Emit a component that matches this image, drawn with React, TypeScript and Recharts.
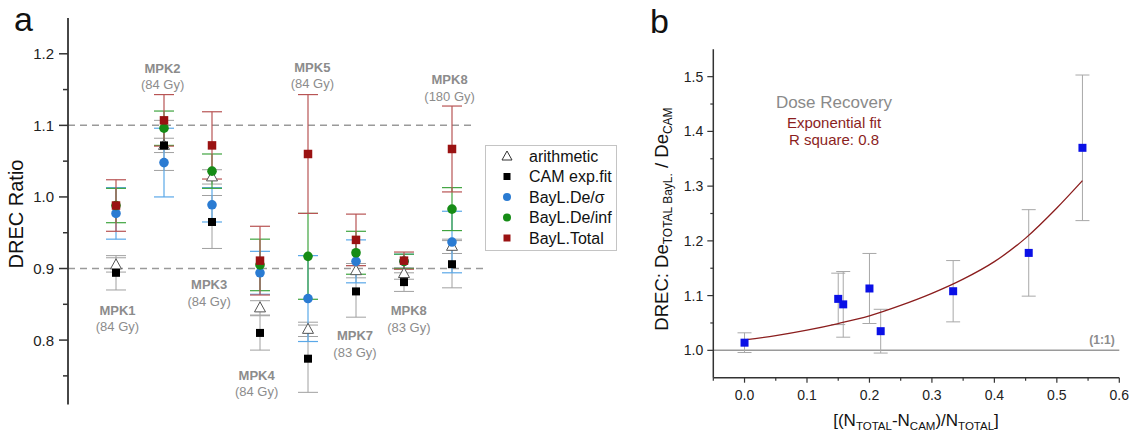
import { ScatterChart, Scatter, XAxis, YAxis, ErrorBar, ReferenceLine } from 'recharts'

// ---- panel a ----
const groups = ['MPK1', 'MPK2', 'MPK3', 'MPK4', 'MPK5', 'MPK7', 'MPK8', 'MPK8']
const doses = ['(84 Gy)', '(84 Gy)', '(84 Gy)', '(84 Gy)', '(84 Gy)', '(83 Gy)', '(83 Gy)', '(180 Gy)']
// where each group caption sits (group index, ratio)
const captionX = [0.03, 0.97, 1.94, 2.93, 4.09, 4.98, 6.1, 6.95]
const captionY = [0.842, 1.18, 0.877, 0.751, 1.181, 0.806, 0.841, 1.164]

const seriesNames = ['arithmetic', 'CAM exp.fit', 'BayL.De/σ', 'BayL.De/inf', 'BayL.Total']

const arithmetic = [0.905, 1.072, 1.028, 0.845, 0.815, 0.897, 0.893, 0.931]
const arithmeticErr = [0.01, 0.01, 0.01, 0.01, 0.01, 0.01, 0.008, 0.01]
const cam = [0.894, 1.072, 0.965, 0.81, 0.774, 0.868, 0.881, 0.906]
const camErr = [0.024, 0.035, 0.037, 0.024, 0.047, 0.036, 0.013, 0.033]
const baylSigma = [0.977, 1.048, 0.989, 0.894, 0.858, 0.91, 0.91, 0.937]
const baylSigmaErr = [0.036, 0.048, 0.024, 0.03, 0.06, 0.03, 0.01, 0.043]
const baylInf = [0.988, 1.096, 1.036, 0.905, 0.917, 0.922, 0.91, 0.983]
const baylInfErr = [0.024, 0.024, 0.024, 0.036, 0.06, 0.03, 0.01, 0.03]
const baylTotal = [0.988, 1.107, 1.072, 0.911, 1.06, 0.94, 0.911, 1.067]
const baylTotalErr = [0.036, 0.036, 0.047, 0.048, 0.083, 0.036, 0.012, 0.06]

const leftTicks = [0.75, 0.8, 0.85, 0.9, 0.95, 1.0, 1.05, 1.1, 1.15, 1.2]

// ---- panel b ----
const ratioX = [0.0, 0.15, 0.158, 0.2, 0.218, 0.334, 0.455, 0.541]
const ratioY = [1.014, 1.094, 1.084, 1.113, 1.035, 1.108, 1.178, 1.37]
const ratioErr = [0.018, 0.047, 0.06, 0.064, 0.04, 0.056, 0.079, 0.133]
const fitX = [0, 0.05, 0.1, 0.15, 0.2, 0.25, 0.3, 0.35, 0.4, 0.45, 0.5, 0.541]
const fitY = [1.019, 1.027, 1.037, 1.049, 1.063, 1.082, 1.104, 1.13, 1.162, 1.205, 1.26, 1.31]

const rightYTicks = [1.0, 1.05, 1.1, 1.15, 1.2, 1.25, 1.3, 1.35, 1.4, 1.45, 1.5]
const rightXTicks = [-0.05, 0, 0.05, 0.1, 0.15, 0.2, 0.25, 0.3, 0.35, 0.4, 0.45, 0.5, 0.55, 0.6]

const toPoints = (vals: number[], errs: number[]) =>
  vals.map((y, i) => ({ x: i, y, err: errs[i] }))

const captions = groups.map((name, i) => ({ x: captionX[i], y: captionY[i], name, dose: doses[i] }))
const ratioPoints = ratioX.map((x, i) => ({ x, y: ratioY[i], err: ratioErr[i] }))
const fitPoints = fitX.map((x, i) => ({ x, y: fitY[i] }))

const isMajor = (v: number) => Math.abs(v * 10 - Math.round(v * 10)) < 1e-6

const BLUE = '#2a7bd2'
const GREEN = '#168c16'
const RED = '#9a1212'

function LeftTick({ x, y, payload }: any) {
  const major = isMajor(payload.value)
  return (
    <g>
      <line x1={x - (major ? 9 : 5)} x2={x} y1={y} y2={y} stroke="#333" strokeWidth={1.5} />
      {major && (
        <text x={x - 14} y={y} textAnchor="end" dominantBaseline="central" fontSize={15} fill="#222">
          {payload.value.toFixed(1)}
        </text>
      )}
    </g>
  )
}

function RightYTick({ x, y, payload }: any) {
  const major = isMajor(payload.value)
  return (
    <g>
      <line x1={x - (major ? 6 : 3)} x2={x} y1={y} y2={y} stroke="#333" strokeWidth={1.2} />
      {major && (
        <text x={x - 10} y={y} textAnchor="end" dominantBaseline="central" fontSize={14} fill="#222">
          {payload.value.toFixed(1)}
        </text>
      )}
    </g>
  )
}

function RightXTick({ x, y, payload }: any) {
  const major = isMajor(payload.value)
  return (
    <g>
      <line x1={x} x2={x} y1={y} y2={y + (major ? 5 : 3)} stroke="#333" strokeWidth={1.2} />
      {major && payload.value >= 0 && (
        <text x={x} y={y + 22} textAnchor="middle" fontSize={14} fill="#222">
          {payload.value.toFixed(1)}
        </text>
      )}
    </g>
  )
}

const triangle = ({ cx, cy }: any) => (
  <path
    d={`M${cx},${cy - 6} L${cx + 5.5},${cy + 4} L${cx - 5.5},${cy + 4} Z`}
    fill="#fff"
    stroke="#555"
    strokeWidth={1}
  />
)
const square = (color: string, s: number) => ({ cx, cy }: any) => (
  <rect x={cx - s / 2} y={cy - s / 2} width={s} height={s} fill={color} />
)
const dot = (color: string, r: number) => ({ cx, cy }: any) => (
  <circle cx={cx} cy={cy} r={r} fill={color} />
)
const caption = ({ cx, cy, payload }: any) => (
  <g fill="#8c8c8c" textAnchor="middle">
    <text x={cx} y={cy} dominantBaseline="central" fontSize={13} fontWeight="bold">
      {payload.name}
    </text>
    <text x={cx} y={cy + 16.5} dominantBaseline="central" fontSize={13}>
      {payload.dose}
    </text>
  </g>
)
const noMark = () => <g />

const legendIcons = [
  (x: number, y: number) => (
    <path d={`M${x},${y - 5} L${x + 5},${y + 4} L${x - 5},${y + 4} Z`} fill="#fff" stroke="#333" />
  ),
  (x: number, y: number) => <rect x={x - 3.5} y={y - 3.5} width={7} height={7} fill="#000" />,
  (x: number, y: number) => <circle cx={x} cy={y} r={4} fill={BLUE} />,
  (x: number, y: number) => <circle cx={x} cy={y} r={4} fill={GREEN} />,
  (x: number, y: number) => <rect x={x - 3.5} y={y - 3.5} width={7} height={7} fill={RED} />,
]

export default function App() {
  return (
    <div
      style={{
        position: 'absolute',
        left: 0,
        top: 0,
        width: 1136,
        height: 437,
        background: '#fff',
        fontFamily: '"Liberation Sans", Arial, sans-serif',
      }}
    >
      <div style={{ position: 'absolute', left: 0, top: 0 }}>
        <ScatterChart width={500} height={437} margin={{ top: 18, right: 12, bottom: 32.5, left: 0 }}>
          <XAxis type="number" dataKey="x" domain={[-1, 7.75]} allowDataOverflow hide />
          <YAxis
            type="number"
            dataKey="y"
            domain={[0.71, 1.25]}
            allowDataOverflow
            ticks={leftTicks}
            interval={0}
            width={68}
            tickSize={0}
            tickMargin={0}
            tickLine={false}
            tick={<LeftTick />}
            axisLine={{ stroke: '#333', strokeWidth: 1.8 }}
          />
          <ReferenceLine
            segment={[{ x: -1, y: 1.1 }, { x: 7.4, y: 1.1 }]}
            stroke="#9a9a9a"
            strokeWidth={1.5}
            strokeDasharray="7 5"
            ifOverflow="extendDomain"
          />
          <ReferenceLine
            segment={[{ x: -1, y: 0.9 }, { x: 7.73, y: 0.9 }]}
            stroke="#9a9a9a"
            strokeWidth={1.5}
            strokeDasharray="7 5"
            ifOverflow="extendDomain"
          />
          <Scatter data={captions} shape={caption} isAnimationActive={false} />
          <Scatter name={seriesNames[0]} data={toPoints(arithmetic, arithmeticErr)} shape={triangle} isAnimationActive={false}>
            <ErrorBar dataKey="err" direction="y" width={10} stroke="#a0a0a0" strokeWidth={1} />
          </Scatter>
          <Scatter name={seriesNames[1]} data={toPoints(cam, camErr)} shape={square('#000', 8)} isAnimationActive={false}>
            <ErrorBar dataKey="err" direction="y" width={10} stroke="#a0a0a0" strokeWidth={1} />
          </Scatter>
          <Scatter name={seriesNames[2]} data={toPoints(baylSigma, baylSigmaErr)} shape={dot(BLUE, 4.8)} isAnimationActive={false}>
            <ErrorBar dataKey="err" direction="y" width={10} stroke="#5aa8e8" strokeWidth={1.2} />
          </Scatter>
          <Scatter name={seriesNames[3]} data={toPoints(baylInf, baylInfErr)} shape={dot(GREEN, 4.8)} isAnimationActive={false}>
            <ErrorBar dataKey="err" direction="y" width={10} stroke="#3fa43f" strokeWidth={1.2} />
          </Scatter>
          <Scatter name={seriesNames[4]} data={toPoints(baylTotal, baylTotalErr)} shape={square(RED, 8.5)} isAnimationActive={false}>
            <ErrorBar dataKey="err" direction="y" width={10} stroke="#b85454" strokeWidth={1.2} />
          </Scatter>
        </ScatterChart>
      </div>

      <div style={{ position: 'absolute', left: 620, top: 0 }}>
        <ScatterChart width={516} height={437} margin={{ top: 49.3, right: 16.7, bottom: 0, left: 0 }}>
          <XAxis
            type="number"
            dataKey="x"
            domain={[-0.05, 0.6]}
            allowDataOverflow
            ticks={rightXTicks}
            interval={0}
            height={59.3}
            tickSize={0}
            tickMargin={0}
            tickLine={false}
            tick={<RightXTick />}
            axisLine={{ stroke: '#333', strokeWidth: 1.5 }}
          />
          <YAxis
            type="number"
            dataKey="y"
            domain={[0.95, 1.55]}
            allowDataOverflow
            ticks={rightYTicks}
            interval={0}
            width={93.3}
            tickSize={0}
            tickMargin={0}
            tickLine={false}
            tick={<RightYTick />}
            axisLine={{ stroke: '#333', strokeWidth: 1.5 }}
          />
          <ReferenceLine y={1} stroke="#9a9a9a" strokeWidth={1.5} />
          <Scatter
            data={fitPoints}
            line={{ stroke: '#8b1e1e', strokeWidth: 1.3 }}
            lineJointType="monotoneX"
            shape={noMark}
            isAnimationActive={false}
          />
          <Scatter data={ratioPoints} shape={square('#0a10e6', 8)} isAnimationActive={false}>
            <ErrorBar dataKey="err" direction="y" width={7} stroke="#a8a8a8" strokeWidth={1} />
          </Scatter>
        </ScatterChart>
      </div>

      <svg
        width={1136}
        height={437}
        style={{ position: 'absolute', left: 0, top: 0, pointerEvents: 'none' }}
      >
        <text x={14} y={31} fontSize={34} fill="#111">a</text>
        <text x={650} y={33} fontSize={34} fill="#111">b</text>

        <text x={22.5} y={214} fontSize={20} fill="#111" textAnchor="middle" transform="rotate(-90 22.5 214)">
          DREC Ratio
        </text>

        <rect x={485.5} y={145.5} width={131} height={105} fill="#fff" stroke="#c4c4c4" />
        {seriesNames.map((n, i) => {
          const cy = 156 + i * 20.5
          return (
            <g key={n}>
              {legendIcons[i](507, cy)}
              <text x={529} y={cy} dominantBaseline="central" fontSize={16} fill="#111">
                {n}
              </text>
            </g>
          )
        })}

        <text x={668} y={219} fontSize={18.5} fill="#111" textAnchor="middle" transform="rotate(-90 668 219)">
          DREC: De<tspan dy={4} fontSize={12}>TOTAL BayL.</tspan>
          <tspan dy={-4}> / De</tspan>
          <tspan dy={4} fontSize={12}>CAM</tspan>
        </text>
        <text x={916} y={426} fontSize={17} fill="#111" textAnchor="middle">
          [(N<tspan dy={4} fontSize={11.5}>TOTAL</tspan>
          <tspan dy={-4}>-N</tspan>
          <tspan dy={4} fontSize={11.5}>CAM</tspan>
          <tspan dy={-4}>)/N</tspan>
          <tspan dy={4} fontSize={11.5}>TOTAL</tspan>
          <tspan dy={-4}>]</tspan>
        </text>

        <text x={834} y={108} fontSize={17} fill="#8a8a8a" textAnchor="middle">Dose Recovery</text>
        <text x={834} y={128} fontSize={15} fill="#8b1e1e" textAnchor="middle">Exponential fit</text>
        <text x={834} y={145} fontSize={15} fill="#8b1e1e" textAnchor="middle">R square: 0.8</text>
        <text x={1102} y={344} fontSize={12} fontWeight="bold" fill="#8c8c8c" textAnchor="middle">(1:1)</text>
      </svg>
    </div>
  )
}
